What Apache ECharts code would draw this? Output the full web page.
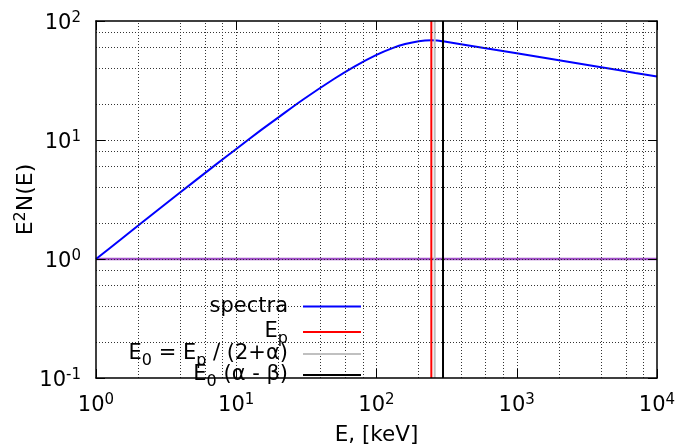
<!DOCTYPE html>
<html><head><meta charset="utf-8">
<script src="https://cdn.jsdelivr.net/npm/echarts@6/dist/echarts.min.js"></script>
<style>html,body{margin:0;padding:0;background:#fff}#c{width:679px;height:444px}</style>
</head><body><div id="c"></div>
<script>
// Spectrum E^2 N(E)
var energies = [1, 1.5, 2, 3, 5, 7, 10, 15, 20, 30, 50, 70, 100, 130, 160, 200, 246, 270, 298, 400, 600, 1000, 2000, 4000, 7000, 10000];
var spectra  = [1, 1.46, 1.91, 2.79, 4.47, 6.09, 8.41, 12.1, 15.5, 21.9, 32.7, 41.6, 51.9, 59.1, 64.0, 67.7, 68.9, 68.6, 67.5, 63.9, 59.1, 53.6, 46.8, 40.9, 36.6, 34.1];
var Ep = 246;          // peak energy (red)
var E0 = 260;          // E0 = Ep/(2+alpha) (gray)
var Ebreak = 298;      // E0 (alpha - beta) (black)
var hLevel = 1;        // horizontal reference line
var xRange = [1, 10000];
var yRange = [0.1, 100];
var xGridMajor = [10, 100, 1000];
var xGridMinor = [2, 4, 6, 8, 20, 40, 60, 80, 200, 400, 600, 800, 2000, 4000, 6000, 8000];
var yGridMajor = [1, 10];
var yGridMinor = [0.2, 0.4, 0.6, 0.8, 2, 4, 6, 8, 20, 40, 60, 80];
var legendNames = ['spectra', 'Ep', 'E0 = Ep / (2+α)', 'E0 (α - β)'];
var legendRich = {
  'spectra': '{b|spectra}',
  'Ep': '{b|E}{s|p}',
  'E0 = Ep / (2+α)': '{b|E}{s|0}{b| = E}{s|p}{b| / (2+α)}',
  'E0 (α - β)': '{b|E}{s|0}{b| (α - β)}'
};

var FONT = 'DejaVu Sans';
var supRich = {
  b: {fontFamily: FONT, fontSize: 21, color: '#000', lineHeight: 22},
  s: {fontFamily: FONT, fontSize: 15, color: '#000', lineHeight: 15, padding: [0, 0, 11, 0]}
};
var nameRich = {
  b: {fontFamily: FONT, fontSize: 22, color: '#000', lineHeight: 23},
  s: {fontFamily: FONT, fontSize: 16, color: '#000', lineHeight: 16, padding: [0, 0, 11, 0]}
};
var subRich = {
  b: {fontFamily: FONT, fontSize: 21, color: '#000', lineHeight: 22},
  s: {fontFamily: FONT, fontSize: 16, color: '#000', lineHeight: 16, padding: [14, 0, 0, 0]}
};
function powLabel(v) {
  var e = Math.round(Math.log10(v));
  return '{b|10}{s|' + e + '}';
}

var chart = echarts.init(document.getElementById('c'));
var specData = energies.map(function (e, i) { return [e, spectra[i]]; });
function vline(x) { return [[x, yRange[0]], [x, yRange[1]]]; }

var gridLines = [];
xGridMajor.concat(xGridMinor).forEach(function (v) { gridLines.push({xAxis: v}); });
yGridMajor.concat(yGridMinor).forEach(function (v) { gridLines.push({yAxis: v}); });

var axisCommon = {
  type: 'log', logBase: 10,
  axisLine: {show: true, lineStyle: {color: '#000', width: 1.5}},
  axisTick: {show: true, inside: true, length: 9, lineStyle: {color: '#000', width: 1}},
  splitLine: {show: false},
  minorTick: {show: false},
  nameMoveOverlap: false,
  z: 5
};

var legends = legendNames.map(function (n, i) {
  var rowY = [297, 318, 340, 361][i];
  return {
    data: [n], orient: 'vertical', align: 'right', right: 318, top: rowY - 1,
    itemWidth: 58, itemHeight: 2, icon: 'rect', padding: 0, z: 6,
    selectedMode: false,
    formatter: function (name) { return legendRich[name]; },
    textStyle: {padding: [0, 10, 0, 0], rich: subRich}
  };
});

chart.setOption({
  animation: false,
  backgroundColor: '#fff',
  grid: {left: 96, right: 22, top: 21, bottom: 66, containLabel: false, outerBoundsMode: 'none'},
  legend: legends,
  graphic: [{
    type: 'rect', z: 3,
    shape: {x: 108, y: 285, width: 264, height: 93},
    style: {fill: '#fff'}
  }],
  xAxis: [
    Object.assign({}, axisCommon, {
      position: 'bottom', min: xRange[0], max: xRange[1],
      name: 'E, [keV]', nameLocation: 'middle', nameGap: 46,
      nameTextStyle: {fontFamily: FONT, fontSize: 21.5, color: '#000'},
      axisLabel: {show: true, margin: 17, formatter: powLabel, rich: supRich}
    }),
    Object.assign({}, axisCommon, {
      position: 'top', min: xRange[0], max: xRange[1],
      axisLabel: {show: false}
    })
  ],
  yAxis: [
    Object.assign({}, axisCommon, {
      position: 'left', min: yRange[0], max: yRange[1],
      name: '{b|E}{s|2}{b|N(E)}', nameLocation: 'middle', nameGap: 58, nameRotate: 90,
      nameTextStyle: {rich: nameRich},
      axisLabel: {show: true, margin: 15, formatter: powLabel, rich: supRich, padding: [5, 0, 0, 0]}
    }),
    Object.assign({}, axisCommon, {
      position: 'right', min: yRange[0], max: yRange[1],
      axisLabel: {show: false}
    })
  ],
  series: [
    {
      name: '_grid', type: 'line', data: [], z: 1, silent: true,
      markLine: {
        silent: true, symbol: 'none', label: {show: false}, animation: false,
        lineStyle: {color: '#333', width: 1, type: [1, 2]},
        emphasis: {disabled: true},
        data: gridLines
      }
    },
    {
      name: '_h', type: 'line', data: [[xRange[0], hLevel], [xRange[1], hLevel]],
      symbol: 'none', z: 2, lineStyle: {color: '#a04fc8', width: 2.5}, itemStyle: {color: '#a04fc8'}
    },
    {
      name: 'spectra', type: 'line', data: specData, smooth: 0.3, symbol: 'none', z: 2,
      lineStyle: {color: '#0000ff', width: 2}, itemStyle: {color: '#0000ff'}
    },
    {
      name: 'Ep', type: 'line', data: vline(Ep), symbol: 'none', z: 2,
      lineStyle: {color: '#ff0000', width: 2}, itemStyle: {color: '#ff0000'}
    },
    {
      name: 'E0 = Ep / (2+α)', type: 'line', data: vline(E0), symbol: 'none', z: 2,
      lineStyle: {color: '#c0c0c0', width: 2}, itemStyle: {color: '#c0c0c0'}
    },
    {
      name: 'E0 (α - β)', type: 'line', data: vline(Ebreak), symbol: 'none', z: 2,
      lineStyle: {color: '#000000', width: 2}, itemStyle: {color: '#000000'}
    }
  ]
});
</script></body></html>
